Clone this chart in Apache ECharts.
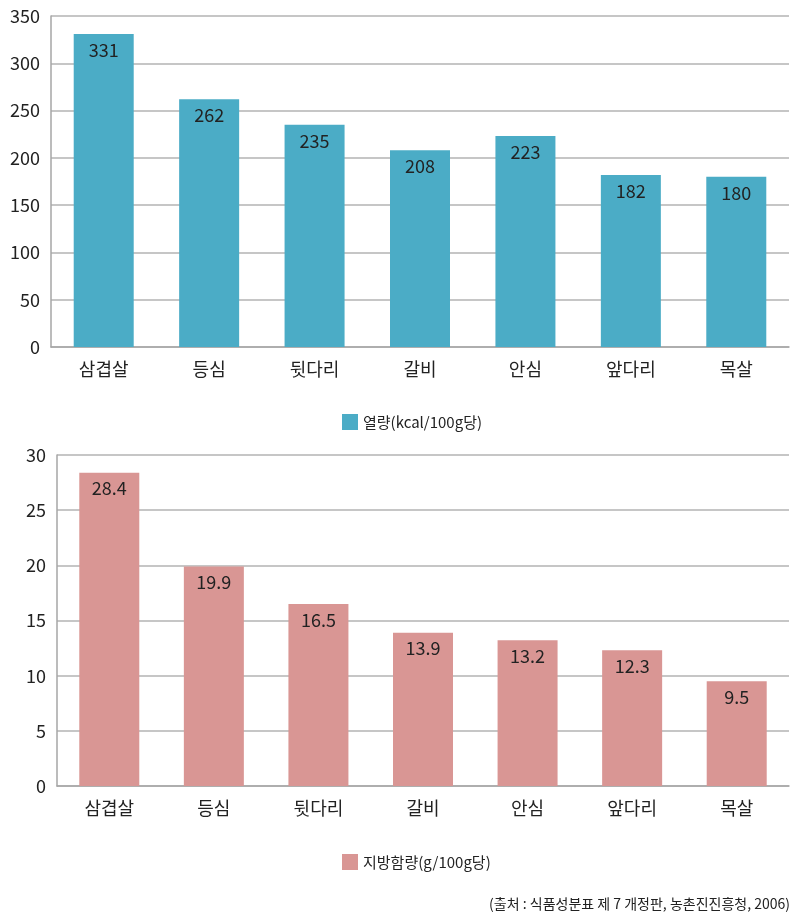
<!DOCTYPE html>
<html><head><meta charset="utf-8">
<script src="https://cdn.jsdelivr.net/npm/echarts@6/dist/echarts.min.js"></script>
<style>html,body{margin:0;padding:0;background:#fff}#c{width:800px;height:919px}</style>
</head><body><div id="c"></div>
<script>
const categories = ['삼겹살','등심','뒷다리','갈비','안심','앞다리','목살'];
const calories = [331, 262, 235, 208, 223, 182, 180];
const fat = [28.4, 19.9, 16.5, 13.9, 13.2, 12.3, 9.5];
const calName = '열량(kcal/100g당)';
const fatName = '지방함량(g/100g당)';
const sourceText = '(출처 : 식품성분표 제 7 개정판, 농촌진진흥청, 2006)';

const FONT = '"Noto Sans CJK KR", "Noto Sans", sans-serif';
const chart = echarts.init(document.getElementById('c'), null, {renderer:'canvas'});
const axisLabel = {color:'#222', fontSize:18, fontFamily:FONT};
function yAxis(idx, max, interval){
  return {gridIndex:idx, type:'value', min:0, max:max, interval:interval,
    axisLine:{show:true, lineStyle:{color:'#a6a6a6', width:1.5}},
    axisTick:{show:false},
    splitLine:{lineStyle:{color:'#b3b3b3', width:1.5}},
    axisLabel:Object.assign({margin:11}, axisLabel)};
}
function xAxis(idx){
  return {gridIndex:idx, type:'category', data:categories,
    axisLine:{lineStyle:{color:'#a6a6a6', width:1.5}},
    axisTick:{show:false},
    axisLabel:Object.assign({margin:13}, axisLabel)};
}
const lbl = {show:true, position:'insideTop', distance:7, color:'#222', fontSize:18, fontFamily:FONT};
chart.setOption({
  animation:false,
  textStyle:{fontFamily:FONT},
  grid:[
    {left:51, right:11, top:16, height:331},
    {left:57, right:11, top:455, height:331}
  ],
  xAxis:[xAxis(0), xAxis(1)],
  yAxis:[yAxis(0, 350, 50), yAxis(1, 30, 5)],
  legend:[
    {data:[calName], top:409, left:337, icon:'rect', itemWidth:16, itemHeight:16, itemGap:9,
     textStyle:{color:'#222', fontSize:15, fontFamily:FONT}},
    {data:[fatName], top:849, left:337, icon:'rect', itemWidth:16, itemHeight:16, itemGap:9,
     textStyle:{color:'#222', fontSize:15, fontFamily:FONT}}
  ],
  series:[
    {name:calName, type:'bar', xAxisIndex:0, yAxisIndex:0, data:calories, barWidth:60,
     itemStyle:{color:'#4BACC6'}, label:lbl},
    {name:fatName, type:'bar', xAxisIndex:1, yAxisIndex:1, data:fat, barWidth:60,
     itemStyle:{color:'#D99694'}, label:Object.assign({}, lbl, {formatter:p=>p.value.toFixed(1)})}
  ],
  graphic:[
    {type:'text', right:10, top:897, style:{text:sourceText, fill:'#222', fontSize:14, fontFamily:FONT}}
  ]
});
</script></body></html>
